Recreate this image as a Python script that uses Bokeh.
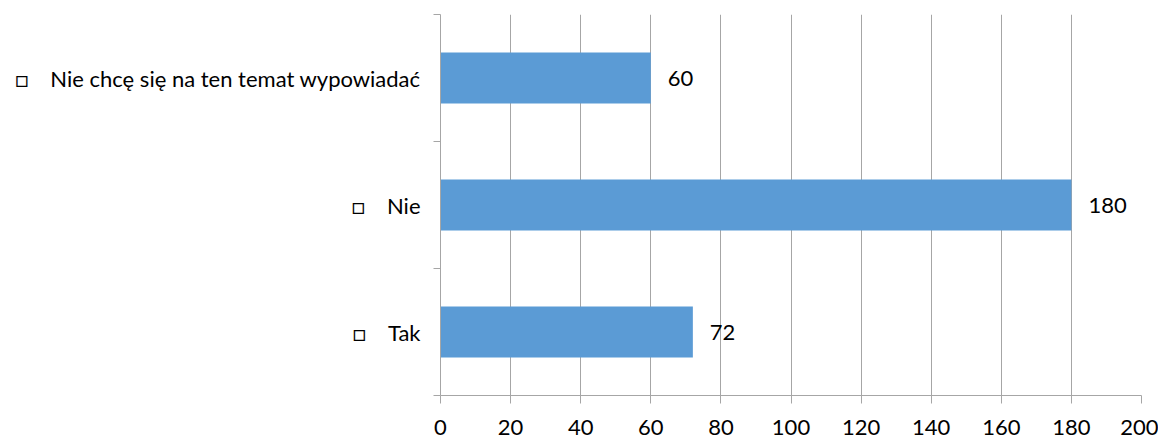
from bokeh.plotting import figure
from bokeh.models import FixedTicker, ColumnDataSource, Range1d
from bokeh.core.properties import value
from bokeh.embed import file_html
from bokeh.resources import INLINE

categories = ["Tak", "Nie", "Nie chcę się na ten temat wypowiadać"]
counts = [72, 180, 60]
x_ticks = [0, 20, 40, 60, 80, 100, 120, 140, 160, 180, 200]

FONT = "Lato"
BAR = "#5B9BD5"
GRID = "#A6A6A6"

centers = [i + 0.5 for i in range(len(categories))]
bounds = [i for i in range(len(categories) + 1)]

src = ColumnDataSource(dict(
    y=centers,
    v=counts,
    lbl=[str(c) for c in counts],
))

p = figure(width=1158, height=441, output_backend="svg", toolbar_location=None,
           x_range=Range1d(0, 200), y_range=Range1d(0, len(categories)),
           frame_width=701, frame_height=381,
           min_border_left=440, min_border_right=17, min_border_top=14, min_border_bottom=46)
p.outline_line_color = None
p.background_fill_color = "white"

p.hbar(y="y", right="v", left=0, height=0.4, source=src, color=BAR, line_color=None)

p.text(x="v", y="y", text="lbl", source=src, x_offset=17,
       text_baseline="middle", text_align="left",
       text_font=value(FONT), text_font_size="22px", text_color="black")

# x axis
xa = p.xaxis[0]
xa.ticker = FixedTicker(ticks=x_ticks)
xa.axis_line_color = GRID
xa.major_tick_line_color = GRID
xa.major_tick_out = 8
xa.major_tick_in = 0
xa.minor_tick_line_color = None
xa.major_label_text_font = FONT
xa.major_label_text_font_size = "22px"
xa.major_label_text_color = "black"
xa.major_label_standoff = 16

# y axis
ya = p.yaxis[0]
ya.ticker = FixedTicker(ticks=centers, minor_ticks=bounds)
ya.axis_line_color = GRID
ya.major_tick_line_color = None
ya.major_tick_out = 0
ya.major_tick_in = 0
ya.minor_tick_line_color = GRID
ya.minor_tick_out = 7
ya.minor_tick_in = 0
ya.major_label_standoff = 13
ya.major_label_text_font = FONT
ya.major_label_text_font_size = "22px"
ya.major_label_text_color = "black"
ya.major_label_overrides = {c: "□\u2002\u2002" + name for c, name in zip(centers, categories)}

p.xgrid.grid_line_color = GRID
p.xgrid.ticker = FixedTicker(ticks=x_ticks)
p.ygrid.grid_line_color = None

open("out.html", "w").write(file_html(p, INLINE))
